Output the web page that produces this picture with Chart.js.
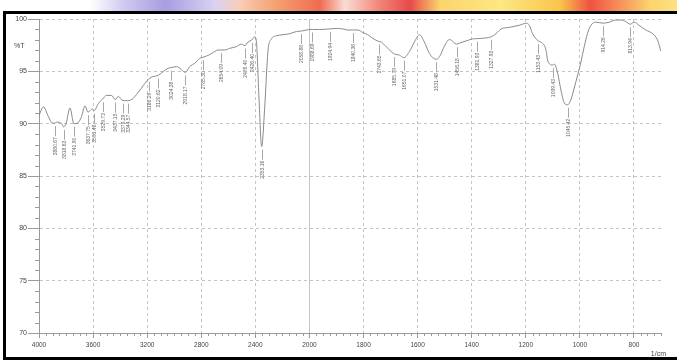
<!DOCTYPE html>
<html>
<head>
<meta charset="utf-8">
<script src="https://cdn.jsdelivr.net/npm/chart.js@4.4.1/dist/chart.umd.min.js"></script>
<style>
  html, body { margin: 0; padding: 0; width: 677px; height: 360px; overflow: hidden; background: #fff; }
  #band {
    position: absolute; left: 0; top: 0; width: 677px; height: 13px;
    background: linear-gradient(90deg, #ffffff 0px, #ffffff 90px, #cfc8f0 125px, #a89de0 165px, #d9d2f2 215px,
      #f8cdb6 240px, #f4a272 275px, #ee6c52 320px, #fadcd4 345px, #f08474 380px, #e84a4c 410px,
      #fbd46c 440px, #fde884 500px, #f9c44c 560px, #f05242 590px, #f6925c 620px, #fbd46c 650px, #fce284 677px);
  }
  #frame {
    position: absolute; left: 3px; top: 11px; width: 674px; height: 349px;
    box-sizing: border-box; border: 3px solid #000; border-right: none; background: #fff;
  }
  #chart { position: absolute; left: 0; top: 0; }
</style>
</head>
<body>
<div id="band"></div>
<div id="frame"></div>
<canvas id="chart" width="677" height="360"></canvas>
<script>
// Transmittance spectrum (wavenumber in 1/cm, transmittance in %T)
const specWn = [4000, 3990, 3968, 3931, 3906, 3869, 3832, 3800, 3771, 3710, 3685, 3660, 3606, 3562,
  3500, 3463, 3414, 3360, 3304, 3278, 3242, 3217, 3156, 3082, 3045, 2983, 2959, 2885, 2848, 2811,
  2737, 2700, 2676, 2626, 2589, 2540, 2503, 2454, 2405, 2392, 2373, 2331, 2307, 2281, 2244, 2196,
  2146, 2097, 2020, 1999, 1962, 1901, 1876, 1860, 1821, 1802, 1784, 1766, 1735, 1716, 1698, 1667,
  1630, 1612, 1593, 1575, 1556, 1519, 1501, 1482, 1445, 1421, 1396, 1365, 1310, 1291, 1261, 1224,
  1197, 1187, 1175, 1144, 1125, 1119, 1095, 1082, 1070, 1058, 1033, 1021, 1008, 996, 984, 972, 959,
  941, 891, 867, 848, 830, 799, 781, 756, 731, 713, 700];
const specT = [90.7, 91.1, 91.6, 90.7, 90.1, 90.15, 90.0, 90.0, 91.5, 90.1, 90.7, 91.7, 91.4, 91.9,
  92.7, 92.7, 92.6, 92.2, 92.4, 92.8, 93.4, 93.85, 94.5, 94.97, 95.3, 95.45, 95.3, 95.45, 95.77, 96.25,
  96.6, 96.9, 97.04, 97.04, 97.2, 97.36, 97.6, 97.8, 98.3, 97.8, 92.4, 91.5, 96.9, 98.1, 98.4, 98.5,
  98.6, 98.8, 98.95, 99.0, 99.0, 99.1, 99.05, 98.95, 98.95, 98.7, 98.5, 98.15, 97.8, 97.35, 96.9, 96.55,
  96.9, 97.8, 98.5, 97.8, 96.7, 96.4, 97.4, 98.05, 97.7, 97.9, 98.1, 98.15, 98.6, 99.05, 99.2, 99.4,
  99.6, 99.4, 98.6, 97.8, 97.0, 96.0, 95.7, 94.8, 93.2, 92.0, 92.3, 93.4, 94.65, 95.9, 97.35, 98.6, 99.4,
  99.7, 99.7, 99.9, 99.9, 99.75, 99.7, 99.4, 98.95, 98.6, 98.0, 96.9];

// Labelled peaks
const peakWn = [3880.67, 3818.63, 3741.90, 3637.75, 3591.48, 3529.73, 3437.15, 3379.29, 3344.57,
  3186.29, 3120.62, 3024.38, 2918.17, 2785.30, 2654.09, 2476.40, 2426.40, 2353.16, 2058.88, 1988.69,
  1924.94, 1840.36, 1743.65, 1685.79, 1651.07, 1531.48, 1456.18, 1381.93, 1327.93, 1153.43, 1099.43,
  1045.42, 914.26, 813.94];
const peakT = [90.05, 89.7, 90.0, 91.1, 91.25, 92.35, 92.3, 92.2, 92.2,
  94.3, 94.6, 95.35, 94.9, 96.35, 97.04, 97.45, 98.0, 87.8, 98.85, 99.0,
  99.05, 98.95, 97.85, 96.65, 96.3, 96.15, 97.6, 98.12, 98.3, 97.9, 95.6,
  91.8, 99.6, 99.5];

// Axis ticks
const xMajorWn = [4000, 3600, 3200, 2800, 2400, 2000, 1800, 1600, 1400, 1200, 1000, 800];
const yMajor = [70, 75, 80, 85, 90, 95, 100];

// Split wavenumber axis: 4000-2000 is drawn at half the scale of 2000-700
const SPLIT = 2000;
function toU(w) { return w >= SPLIT ? (4000 - w) / 2 : 1000 + (SPLIT - w); }
function toWn(u) { return u <= 1000 ? 4000 - 2 * u : SPLIT - (u - 1000); }

const xMajorU = xMajorWn.map(toU);
const xTickU = [];
for (let u = 0; u <= toU(700); u += 25) xTickU.push(u);
const yTicks = [];
for (let v = 70; v <= 100; v++) yTicks.push(v);

const isMajorX = v => xMajorU.some(m => Math.abs(m - v) < 1e-6);
const isMajorY = v => yMajor.includes(v);

const points = specWn.map((w, i) => ({ w, t: specT[i] }))
  .concat(peakWn.map((w, i) => ({ w, t: peakT[i] })))
  .sort((a, b) => b.w - a.w)
  .map(p => ({ x: toU(p.w), y: p.t }));

const FONT = 'Liberation Sans, Arial, sans-serif';
const GRID = '#c4c4c4';
const AXIS = '#9a9a9a';

const decorations = {
  id: 'decorations',
  afterDatasetsDraw(chart) {
    const { ctx, chartArea: a, scales: { x, y } } = chart;
    ctx.save();
    // minor tick marks
    ctx.strokeStyle = AXIS;
    ctx.lineWidth = 1;
    ctx.beginPath();
    yTicks.forEach(v => {
      if (isMajorY(v)) return;
      const py = Math.round(y.getPixelForValue(v)) + 0.5;
      ctx.moveTo(a.left - 4, py); ctx.lineTo(a.left, py);
    });
    xTickU.forEach(u => {
      if (isMajorX(u)) return;
      const px = Math.round(x.getPixelForValue(u)) + 0.5;
      ctx.moveTo(px, a.bottom); ctx.lineTo(px, a.bottom + 3);
    });
    ctx.stroke();

    // axis titles
    ctx.fillStyle = '#444';
    ctx.font = '7px ' + FONT;
    ctx.textAlign = 'left';
    ctx.textBaseline = 'middle';
    ctx.fillText('%T', 14, 46);
    ctx.textAlign = 'right';
    ctx.fillText('1/cm', 666, 354);

    // peak markers and labels
    ctx.font = '5px ' + FONT;
    peakWn.forEach((w, i) => {
      const px = Math.round(x.getPixelForValue(toU(w))) + 0.5;
      const py = y.getPixelForValue(peakT[i]);
      ctx.strokeStyle = '#a8a8a8';
      ctx.beginPath();
      ctx.moveTo(px, py + 3); ctx.lineTo(px, py + 13);
      ctx.stroke();
      ctx.save();
      ctx.translate(px, py + 14);
      ctx.rotate(-Math.PI / 2);
      ctx.fillStyle = '#666';
      ctx.textAlign = 'right';
      ctx.textBaseline = 'middle';
      ctx.fillText(w.toFixed(2), 0, 0);
      ctx.restore();
    });
    ctx.restore();
  }
};

new Chart(document.getElementById('chart'), {
  type: 'line',
  data: {
    datasets: [{
      data: points,
      borderColor: '#8a8a8a',
      borderWidth: 1,
      pointRadius: 0,
      fill: false,
      cubicInterpolationMode: 'monotone'
    }]
  },
  options: {
    responsive: false,
    animation: false,
    devicePixelRatio: 1,
    layout: { padding: { top: 19, right: 16, left: 0, bottom: 0 } },
    plugins: { legend: { display: false }, tooltip: { enabled: false } },
    scales: {
      x: {
        type: 'linear',
        min: 0,
        max: toU(700),
        afterBuildTicks: s => { s.ticks = xTickU.map(v => ({ value: v })); },
        afterFit: s => { s.height = 27; },
        grid: {
          color: c => (c.tick && isMajorX(c.tick.value)) ? GRID : 'rgba(0,0,0,0)',
          tickColor: c => (c.tick && isMajorX(c.tick.value)) ? AXIS : 'rgba(0,0,0,0)',
          tickLength: 5,
          lineWidth: 1
        },
        border: {
          display: true, color: AXIS, width: 1,
          dash: c => (c.tick && Math.abs(c.tick.value - toU(SPLIT)) < 1e-6) ? [] : [3, 3]
        },
        ticks: {
          autoSkip: false, maxRotation: 0, minRotation: 0, padding: 3,
          color: '#444', font: { size: 6.5, family: FONT },
          callback: v => isMajorX(v) ? String(toWn(v)) : ''
        }
      },
      y: {
        min: 70,
        max: 100,
        afterBuildTicks: s => { s.ticks = yTicks.map(v => ({ value: v })); },
        afterFit: s => { s.width = 39; },
        grid: {
          color: c => (c.tick && isMajorY(c.tick.value)) ? GRID : 'rgba(0,0,0,0)',
          tickColor: c => (c.tick && isMajorY(c.tick.value)) ? AXIS : 'rgba(0,0,0,0)',
          tickLength: 11,
          lineWidth: 1
        },
        border: { display: true, color: AXIS, width: 1, dash: [3, 3] },
        ticks: {
          autoSkip: false, padding: 1,
          color: '#444', font: { size: 7, family: FONT },
          callback: v => isMajorY(v) ? String(v) : ''
        }
      }
    }
  },
  plugins: [decorations]
});
</script>
</body>
</html>
